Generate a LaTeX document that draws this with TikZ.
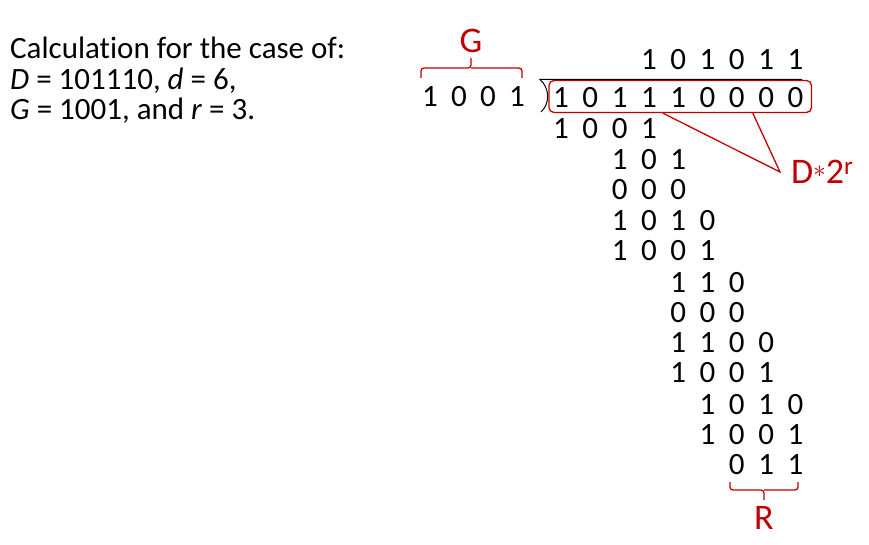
\documentclass[tikz,border=0pt]{standalone}
\usepackage{fontspec}
\setmainfont{Carlito}[Ligatures=NoCommon]
\usetikzlibrary{calc}

\definecolor{crcred}{RGB}{192,0,0}

% one row of bits, placed on the columns of the long division
\newcommand{\bitrow}[4]{% name, first column, y, bits
  \foreach \b [count=\i from 0] in {#4} {
    \node[bit] (#1-\i) at ({561+29.3*(#2+\i)},#3) {\b};
  }
}

\begin{document}
\begin{tikzpicture}[x=1pt, y=-1pt,
  bit/.style={inner sep=0pt, text height=19.6pt, text depth=0pt, font=\fontsize{31}{33}\selectfont},
  case/.style={anchor=base west, inner sep=0pt, font=\fontsize{31}{33}\selectfont},
  redtext/.style={text=crcred, inner sep=0pt, text depth=0pt, font=\fontsize{36}{38}\selectfont},
  redline/.style={draw=crcred, line width=1.3pt}]
\useasboundingbox (0,0) rectangle (869,545);

% the case
\node[case] (line1) at (10,59) {Calculation for the case of:};
\node[case] (line2) at (10,89.5) {\textit{D} = 101110, \textit{d} = 6,};
\node[case] (line3) at (10,120) {\textit{G} = 1001, and \textit{r} = 3.};

% divisor G
\foreach \b [count=\i from 0] in {1,0,0,1} {
  \node[bit] (gen-\i) at ({430+29*\i},97) {\b};
}
\draw[redline, rounded corners=3pt] (421,78) -- (421,68) -- (471,68) -- (471,58);
\draw[redline, rounded corners=3pt] (471,68) -- (522,68) -- (522,78);
\node[redtext, text height=23pt] (glabel) at (471,41) {G};

% quotient and division bracket
\bitrow{quot}{3}{60}{1,0,1,0,1,1}
\draw[line width=1pt] (802,79.5) -- (540,79.5) .. controls (550,88) and (550,104) .. (541,112);

% dividend D*2^r
\bitrow{dvd}{0}{97.5}{1,0,1,1,1,0,0,0,0}
\node[redline, rounded corners=5pt, minimum width=262.5pt, minimum height=32pt, inner sep=0pt] (dbox) at (680.25,96.5) {};
\node[redtext, anchor=west, text height=23pt] (dlabel) at (791,172) {D\raisebox{5.5pt}{\fontsize{24}{24}\selectfont$\ast$}2\textsuperscript{r}};
\coordinate (dtip) at ([xshift=-11pt]dlabel.west);
\draw[redline] ($(dbox.south west)!0.434!(dbox.south east)$) -- (dtip) -- ($(dbox.south west)!0.775!(dbox.south east)$);

% the steps
\bitrow{s1}{0}{129}{1,0,0,1}
\bitrow{r1}{2}{160}{1,0,1}
\bitrow{s2}{2}{190}{0,0,0}
\bitrow{r2}{2}{221}{1,0,1,0}
\bitrow{s3}{2}{251}{1,0,0,1}
\bitrow{r3}{4}{283}{1,1,0}
\bitrow{s4}{4}{313}{0,0,0}
\bitrow{r4}{4}{343}{1,1,0,0}
\bitrow{s5}{4}{373}{1,0,0,1}
\bitrow{r5}{5}{405}{1,0,1,0}
\bitrow{s6}{5}{435}{1,0,0,1}
\bitrow{rem}{6}{465}{0,1,1}

% remainder R
\draw[redline, rounded corners=3pt] (730,482) -- (730,490) -- (764,490) -- (764,500);
\draw[redline, rounded corners=3pt] (764,490) -- (798,490) -- (798,482);
\node[redtext, text height=23pt] (rlabel) at (764,518) {R};
\end{tikzpicture}
\end{document}
